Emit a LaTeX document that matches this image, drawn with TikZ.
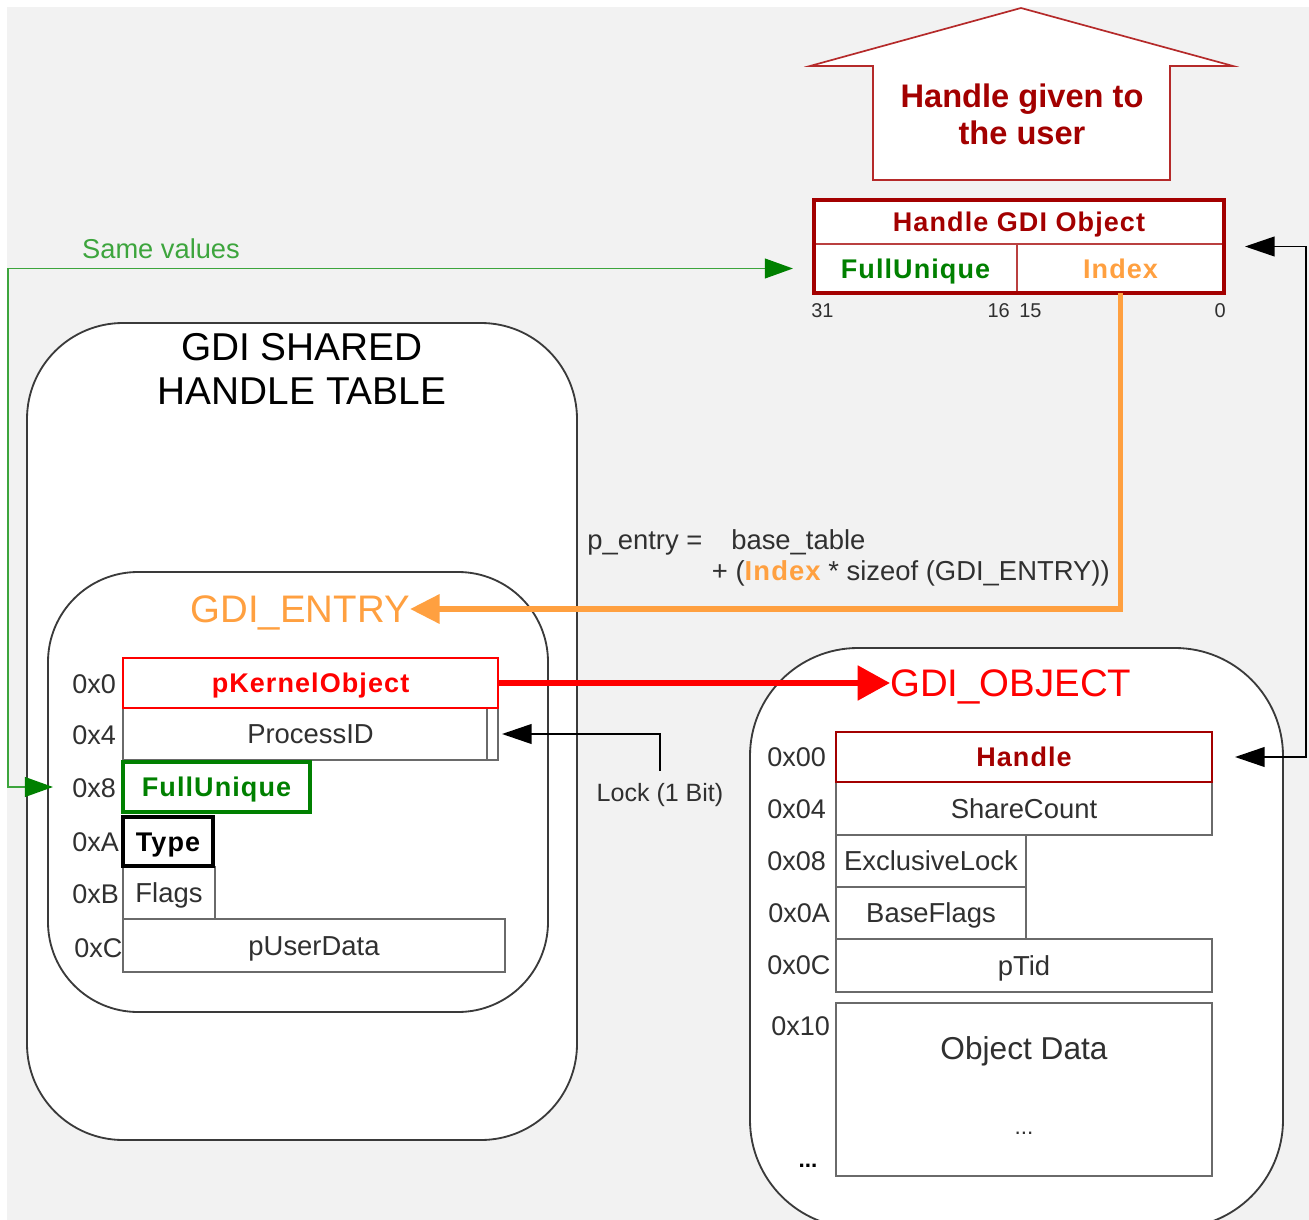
\documentclass[tikz,border=0pt]{standalone}
\usepackage{fontspec}
\setmainfont{Liberation Sans}
\newfontfamily\trackfont[LetterSpace=4]{Liberation Sans}
\usetikzlibrary{arrows.meta}

\definecolor{bgc}{HTML}{F2F2F2}
\definecolor{dred}{HTML}{A30000}
\definecolor{arrred}{HTML}{B52A2A}
\definecolor{dgreen}{HTML}{008000}
\definecolor{lgreen}{HTML}{3DA53D}
\definecolor{orng}{HTML}{FFA040}
\definecolor{txt}{HTML}{303030}
\definecolor{boxgray}{HTML}{6A6A6A}
\definecolor{rimgray}{HTML}{3A3A3A}

\newcommand\fsize[2]{\fontsize{#1}{#2}\selectfont}
% a rectangular field given by its pixel corners (x1,y1) and (x2,y2)
\newcommand\field[7]{\node[#6, minimum width={(#4-#2)*0.025cm}, minimum height={(#5-#3)*0.025cm}] (#1) at ({(#2+#4)/2},{(#3+#5)/2}) {#7};}

\begin{document}
\begin{tikzpicture}[x=0.025cm, y=-0.025cm,
  container/.style={draw=rimgray, line width=1.3pt, fill=white, inner sep=0pt},
  fld/.style={draw=boxgray, line width=1.3pt, fill=white, text=txt, inner sep=0pt, outer sep=0pt,
    font=\fsize{19.5}{20}, text height=14pt, text depth=0pt},
  boldfld/.style={fld, font=\fsize{19.2}{20}\trackfont\bfseries},
  redfld/.style={boldfld, draw=red, line width=2.1pt, text=red},
  greenfld/.style={boldfld, draw=dgreen, line width=2.2pt, text=dgreen},
  typefld/.style={boldfld, draw=black, line width=2.8pt, text=black},
  handlefld/.style={boldfld, draw=dred, line width=2pt, text=dred},
  hgfld/.style={boldfld, draw=dred!75, line width=1pt},
  hboxstyle/.style={draw=dred, line width=2.9pt, inner sep=0pt, outer sep=0pt},
  offs/.style={anchor=west, text=txt, inner sep=0pt, font=\fsize{19.2}{20}},
  plain/.style={text=txt, inner sep=0pt, font=\fsize{19.5}{20}, text height=14pt, text depth=0pt},
  bits/.style={text=txt, inner sep=0pt, font=\fsize{14.2}{15}},
  bigtitle/.style={inner sep=0pt, text depth=0pt, font=\fsize{27.3}{28}},
  redarr/.style={draw=red, line width=4.3pt, -{Triangle[length=23pt,width=24pt]}},
  orangearr/.style={draw=orng, line width=4.2pt, -{Triangle[length=21pt,width=20pt]}},
  greenarr/.style={draw=lgreen, line width=1.4pt,
    {Triangle[length=20pt,width=14pt,color=dgreen]}-{Triangle[length=20pt,width=14pt,color=dgreen]}},
  blackarr/.style={draw=black, line width=1.2pt, -{Triangle[length=21pt,width=14pt]}},
  blackarrs/.style={draw=black, line width=1.2pt,
    {Triangle[length=21pt,width=14pt]}-{Triangle[length=21pt,width=14pt]}}
]
\clip (0,0) rectangle (1309,1220);
\fill[white] (0,0) rectangle (1309,1220);
\fill[bgc] (7,7) rectangle (1309,1220);

% rounded containers
\node[container, rounded corners=2.4cm, minimum width={550*0.025cm}, minimum height={817*0.025cm}]
  (table) at (302,731.5) {};
\node[container, rounded corners=2.25cm, minimum width={500*0.025cm}, minimum height={440*0.025cm}]
  (entry) at (298,792) {};
\node[container, rounded corners=2.7cm, minimum width={533*0.025cm}, minimum height={580*0.025cm}]
  (object) at (1016.5,938) {};

\node[font=\fsize{27.6}{31.3}, align=center, inner sep=0pt] (tabtitle) at (302,369)
  {GDI SHARED\\HANDLE TABLE};

% arrow pointing up to the user
\draw[arrred, line width=1.2pt, fill=white]
  (1021,8) -- (1233,66) -- (1170,66) -- (1170,180) -- (873,180) -- (873,66) -- (810,66) -- cycle;
\node[align=center, text=dred, font=\fsize{23.2}{26.3}\bfseries, inner sep=0pt] (usertxt) at (1022,114)
  {Handle given to\\the user};

% handle given to the user: FullUnique | Index
\field{htitle}{814}{200}{1224}{244}{hgfld, text=dred}{Handle GDI Object}
\field{hfu}{814}{244}{1017}{293}{hgfld, text=dgreen}{FullUnique}
\field{hidx}{1017}{244}{1224}{293}{hgfld, text=orng}{Index}
\field{hbox}{814}{200}{1224}{293}{hboxstyle}{}
\node[bits, anchor=west] (b31) at (811,311) {31};
\node[bits, anchor=east] (b16) at (1010,311) {16};
\node[bits, anchor=west] (b15) at (1019,311) {15};
\node[bits, anchor=east] (b0) at (1226,311) {0};

% GDI_ENTRY fields
\node[bigtitle, text=orng, anchor=east] (etitle) at (410,609) {GDI\_ENTRY};
\field{pid}{123}{708}{498}{760}{fld}{ProcessID}
\field{lockbit}{487}{708}{498}{760}{fld}{}
\field{eflags}{123}{867}{215}{919}{fld}{Flags}
\field{eud}{123}{919}{505}{972}{fld}{pUserData}
\field{pko}{123}{658}{498}{708}{redfld}{pKernelObject}
\field{efu}{123}{762}{310}{812}{greenfld}{FullUnique}
\field{etype}{123}{817}{213}{866}{typefld}{Type}
\node[offs] (e0) at (72,684) {0x0};
\node[offs] (e4) at (72,735) {0x4};
\node[offs] (e8) at (72,788) {0x8};
\node[offs] (eA) at (72,842) {0xA};
\node[offs] (eB) at (72,894) {0xB};
\node[offs] (eC) at (74,948) {0xC};

% GDI_OBJECT fields
\node[bigtitle, text=red, anchor=west] (otitle) at (890,683) {GDI\_OBJECT};
\field{oshare}{836}{782}{1212}{835}{fld}{ShareCount}
\field{oexcl}{836}{835}{1026}{887}{fld}{ExclusiveLock}
\field{obase}{836}{887}{1026}{939}{fld}{BaseFlags}
\field{optid}{836}{939}{1212}{992}{fld}{pTid}
\field{odata}{836}{1003}{1212}{1176}{fld}{}
\field{ohandle}{836}{732}{1212}{782}{handlefld}{Handle}
\node[text=txt, font=\fsize{22.5}{23}, inner sep=0pt] (odtxt) at (1024,1051) {Object Data};
\node[text=txt, font=\fsize{16}{17}, inner sep=0pt] (oddots) at (1024,1133) {...};
\node[offs] (o00) at (767,757) {0x00};
\node[offs] (o04) at (767,809) {0x04};
\node[offs] (o08) at (767,861) {0x08};
\node[offs] (o0A) at (768,913) {0x0A};
\node[offs] (o0C) at (767,965) {0x0C};
\node[offs] (o10) at (771,1026) {0x10};
\node[text=black, font=\fsize{16}{17}\bfseries, inner sep=0pt] (odots) at (808,1166) {...};

% index arithmetic
\node[plain, anchor=west] (pe1) at (587,540) {p\_entry =};
\node[plain, anchor=west] (pe2) at (731,540) {base\_table};
\node[plain, anchor=east] (pe3) at (1110,571)
  {+ ({\color{orng}\trackfont\bfseries Index} * sizeof (GDI\_ENTRY))};

\node[text=lgreen, font=\fsize{19.4}{20}, inner sep=0pt, text height=14pt, text depth=0pt]
  (samelbl) at (161,249) {Same values};
\node[text=txt, font=\fsize{17.8}{18}, inner sep=0pt, text height=13pt, text depth=0pt]
  (lock) at (660,792) {Lock (1 Bit)};

% connectors
\draw[redarr] (pko.east) -- (otitle.west);
\draw[orangearr] (hidx.south) |- (etitle.east);
\draw[greenarr] ([xshift=-21*0.025cm]hfu.west) -| (8,500) |- ([xshift=-70*0.025cm]efu.west);
\draw[blackarr] ([yshift=12*0.025cm]lock.north) |- ([xshift=4*0.025cm]lockbit.east);
\draw[blackarrs] ([xshift=21*0.025cm]hbox.east) -- ++(61,0) |- ([xshift=23*0.025cm]ohandle.east);
\end{tikzpicture}
\end{document}
